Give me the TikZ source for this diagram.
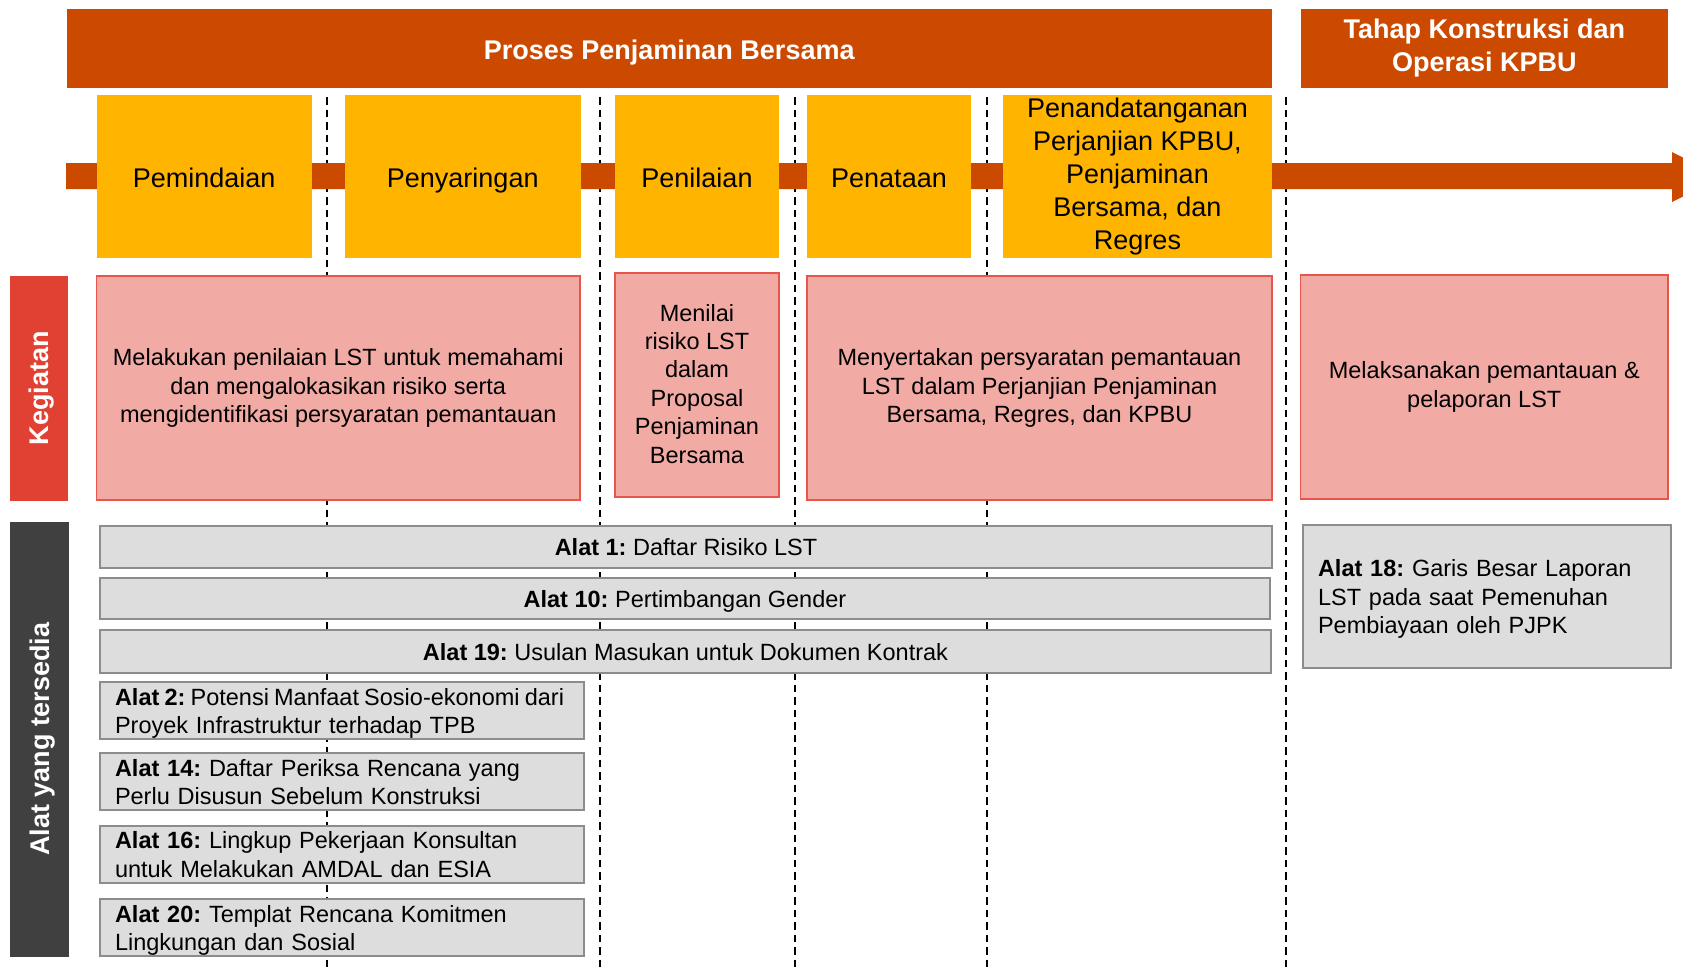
\documentclass[tikz,border=0pt]{standalone}
\usepackage{fontspec}
\setmainfont{Liberation Sans}
\frenchspacing
\definecolor{orangeD}{RGB}{204,74,0}
\definecolor{yellowB}{RGB}{255,181,0}
\definecolor{redK}{RGB}{224,65,50}
\definecolor{pinkF}{RGB}{242,170,165}
\definecolor{pinkD}{RGB}{232,85,75}
\definecolor{darkG}{RGB}{64,64,64}
\definecolor{grayF}{RGB}{221,221,221}
\definecolor{grayD}{RGB}{140,140,140}
\newcommand\headfont{\fontsize{13.5}{16.5}\selectfont}
\newcommand\bodyfont{\fontsize{11.75}{14.2}\selectfont}
\newcommand\tightsp{\spaceskip=0.22em plus 0.05em\relax}
\newcommand\myhtop{\rule{0pt}{13.9pt}}
\newcommand\myhbot{\rule[-2.6pt]{0pt}{0pt}}
\newcommand\mymtop{\rule{0pt}{14.5pt}}
\newcommand\mymbot{\rule[-0.5pt]{0pt}{0pt}}
\newcommand\mybtop{\rule{0pt}{11.5pt}}
\newcommand\mybbot{\rule[-2.7pt]{0pt}{0pt}}
\newcommand\myptop{\rule{0pt}{12.7pt}}
\newcommand\mypbot{\rule[-1.5pt]{0pt}{0pt}}
\newcommand\mystop{\rule{0pt}{13.05pt}}
\newcommand\mysbot{\rule[-3.45pt]{0pt}{0pt}}
\newcommand\bx[7]{%
 \pgfmathsetmacro\bxw{(#5-#3)*0.5}%
 \pgfmathsetmacro\bxh{(#6-#4)*0.5}%
 \pgfmathsetmacro\bxt{(#5-#3)*0.5-15}%
 \node[#1, minimum width=\bxw pt, minimum height=\bxh pt] (#2) at ({(#3+#5)/2},{(#4+#6)/2}) {#7};}
\tikzset{
 hstruts/.style={execute at begin node=\myhtop, execute at end node=\myhbot},
 mstruts/.style={execute at begin node=\mymtop, execute at end node=\mymbot},
 bstruts/.style={execute at begin node=\mybtop, execute at end node=\mybbot},
 pstruts/.style={execute at begin node=\myptop, execute at end node=\mypbot},
 titlebase/.style={fill=orangeD, draw=none, text=white, font=\headfont\bfseries, align=center, inner sep=0.5pt},
 titlebox/.style={titlebase, hstruts},
 titlemulti/.style={titlebase, mstruts},
 stagebase/.style={fill=yellowB, draw=none, text=black, font=\headfont, align=center, inner sep=0.5pt},
 stagebox/.style={stagebase, hstruts},
 stagemulti/.style={stagebase, mstruts},
 sidebox/.style={execute at begin node=\mystop, execute at end node=\mysbot, draw=none, text=white, font=\headfont\bfseries, inner sep=0pt},
 actbox/.style={pstruts, fill=pinkF, draw=pinkD, line width=0.75pt, font=\bodyfont, align=center, inner sep=1pt},
 toolbox/.style={bstruts, fill=grayF, draw=grayD, line width=1pt, font=\bodyfont, align=center, inner sep=1pt},
 toolleft/.style={bstruts, fill=grayF, draw=grayD, line width=1pt, font=\bodyfont, align=left, text width=\bxt pt, inner xsep=7.5pt, inner ysep=0pt},
 dashline/.style={draw=black, line width=1pt, dash pattern=on 3.75pt off 2.5pt},
}
\begin{document}
\begin{tikzpicture}[x=0.5pt, y=-0.5pt]
\useasboundingbox (0,0) rectangle (1683,971);
\fill[white] (0,0) rectangle (1683,971);
\clip (0,0) rectangle (1683,971);
% dashed separators
\foreach \x/\n in {327/1, 599.5/2, 794.6/3, 986.7/4, 1286/5} {
  \coordinate (dt\n) at (\x,97);
  \coordinate (db\n) at (\x,971);
  \draw[dashline] (dt\n) -- (db\n);
}
% timeline bar with arrow
\fill[orangeD] (66,163) -- (1672,163) -- (1672,152) -- (1722,177) -- (1672,202) -- (1672,189) -- (66,189) -- cycle;
% headers
\bx{titlebox}{proses}{66.5}{8.5}{1272}{88}{Proses Penjaminan Bersama}
\bx{titlemulti}{tahap}{1300.6}{8.5}{1668}{88}{Tahap Konstruksi dan\\Operasi KPBU}
% stages
\bx{stagebox}{s1}{96.5}{95}{311.6}{258}{Pemindaian}
\bx{stagebox}{s2}{345}{95}{580.5}{258}{Penyaringan}
\bx{stagebox}{s3}{615}{95}{779}{258}{Penilaian}
\bx{stagebox}{s4}{807}{95}{971}{258}{Penataan}
\bx{stagemulti}{s5}{1003}{95}{1272}{258}{Penandatanganan\\Perjanjian KPBU,\\Penjaminan\\Bersama, dan\\Regres}
% side labels
\node[sidebox, fill=redK, rotate=90, minimum width=112.35pt, minimum height=29pt] (keg) at (39,388.35) {Kegiatan};
\node[sidebox, fill=darkG, rotate=90, minimum width=217.5pt, minimum height=29.5pt] (alat) at (39.5,739.2) {Alat yang tersedia};
% activities
\bx{actbox}{k1}{96.5}{276}{580}{500}{Melakukan penilaian LST untuk memahami\\dan mengalokasikan risiko serta\\mengidentifikasi persyaratan pemantauan}
\bx{actbox}{k2}{615}{273}{779}{497}{Menilai\\risiko LST\\dalam\\Proposal\\Penjaminan\\Bersama}
\bx{actbox}{k3}{807}{276}{1272}{500}{Menyertakan persyaratan pemantauan\\LST dalam Perjanjian Penjaminan\\Bersama, Regres, dan KPBU}
\bx{actbox}{k4}{1300.6}{275}{1668}{499}{Melaksanakan pemantauan \&\\pelaporan LST}
% tools
\bx{toolbox}{a1}{100}{525.5}{1272}{567.5}{\textbf{Alat 1:} Daftar Risiko LST}
\bx{toolbox}{a10}{100}{577.7}{1270}{619.3}{\textbf{Alat 10:} Pertimbangan Gender}
\bx{toolbox}{a19}{100}{630}{1271}{672.7}{\textbf{Alat 19:} Usulan Masukan untuk Dokumen Kontrak}
\bx{toolleft}{a2}{100}{682.3}{584}{739.3}{\hbox{\tightsp\textbf{Alat 2:} Potensi Manfaat Sosio-ekonomi dari}\\Proyek Infrastruktur terhadap TPB}
\bx{toolleft}{a14}{100}{753.3}{584}{810}{\textbf{Alat 14:} Daftar Periksa Rencana yang\\Perlu Disusun Sebelum Konstruksi}
\bx{toolleft}{a16}{100}{825.7}{584}{882.7}{\textbf{Alat 16:} Lingkup Pekerjaan Konsultan\\untuk Melakukan AMDAL dan ESIA}
\bx{toolleft}{a20}{100}{899}{584}{956}{\textbf{Alat 20:} Templat Rencana Komitmen\\Lingkungan dan Sosial}
\bx{toolleft}{a18}{1303}{525}{1670.6}{667.7}{\textbf{Alat 18:} Garis Besar Laporan\\LST pada saat Pemenuhan\\Pembiayaan oleh PJPK}
\end{tikzpicture}
\end{document}
